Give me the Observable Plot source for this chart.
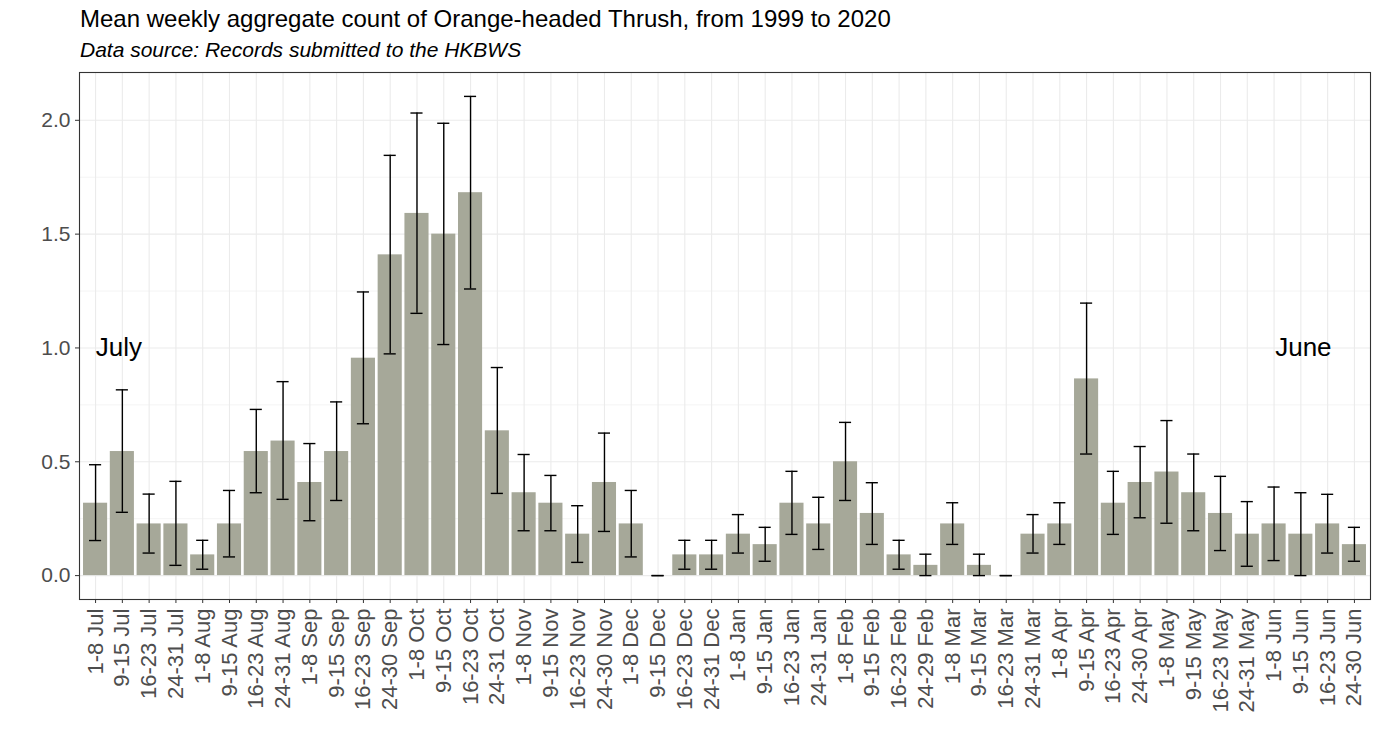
<!DOCTYPE html>
<html>
<head>
<meta charset="utf-8">
<script src="https://cdn.jsdelivr.net/npm/d3@7"></script>
<script src="https://cdn.jsdelivr.net/npm/@observablehq/plot@0.6"></script>
<style>
  html, body { margin: 0; padding: 0; background: #fff; }
  #header { position: relative; width: 1380px; height: 62px; font-family: "Liberation Sans", Arial, sans-serif; }
  #title { position: absolute; left: 80px; top: 7px; font-size: 24px; line-height: 24px; color: #000; white-space: nowrap; }
  #subtitle { position: absolute; left: 80px; top: 39px; font-size: 21px; line-height: 21px; font-style: italic; color: #000; white-space: nowrap; }
  #chart svg { display: block; }
</style>
</head>
<body>
<div id="header">
  <div id="title">Mean weekly aggregate count of Orange-headed Thrush, from 1999 to 2020</div>
  <div id="subtitle">Data source: Records submitted to the HKBWS</div>
</div>
<div id="chart"></div>
<script>
const weeks = [
  "1-8 Jul","9-15 Jul","16-23 Jul","24-31 Jul",
  "1-8 Aug","9-15 Aug","16-23 Aug","24-31 Aug",
  "1-8 Sep","9-15 Sep","16-23 Sep","24-30 Sep",
  "1-8 Oct","9-15 Oct","16-23 Oct","24-31 Oct",
  "1-8 Nov","9-15 Nov","16-23 Nov","24-30 Nov",
  "1-8 Dec","9-15 Dec","16-23 Dec","24-31 Dec",
  "1-8 Jan","9-15 Jan","16-23 Jan","24-31 Jan",
  "1-8 Feb","9-15 Feb","16-23 Feb","24-29 Feb",
  "1-8 Mar","9-15 Mar","16-23 Mar","24-31 Mar",
  "1-8 Apr","9-15 Apr","16-23 Apr","24-30 Apr",
  "1-8 May","9-15 May","16-23 May","24-31 May",
  "1-8 Jun","9-15 Jun","16-23 Jun","24-30 Jun"
];
const means = [
  0.318,0.545,0.227,0.227,
  0.091,0.227,0.545,0.591,
  0.409,0.545,0.955,1.409,
  1.591,1.500,1.682,0.636,
  0.364,0.318,0.182,0.409,
  0.227,0.000,0.091,0.091,
  0.182,0.136,0.318,0.227,
  0.500,0.273,0.091,0.045,
  0.227,0.045,0.000,0.182,
  0.227,0.864,0.318,0.409,
  0.455,0.364,0.273,0.182,
  0.227,0.182,0.227,0.136
];
const upper = [
  0.487,0.816,0.358,0.414,
  0.155,0.374,0.730,0.852,
  0.580,0.763,1.246,1.846,
  2.032,1.987,2.105,0.914,
  0.532,0.440,0.307,0.626,
  0.374,0.000,0.155,0.155,
  0.268,0.212,0.458,0.344,
  0.673,0.408,0.155,0.094,
  0.320,0.094,0.000,0.268,
  0.320,1.197,0.458,0.567,
  0.681,0.534,0.436,0.325,
  0.389,0.364,0.357,0.212
];
const lower = [
  0.154,0.278,0.099,0.045,
  0.028,0.082,0.364,0.335,
  0.241,0.330,0.667,0.974,
  1.152,1.015,1.259,0.361,
  0.197,0.197,0.058,0.194,
  0.082,0.000,0.028,0.028,
  0.099,0.063,0.181,0.115,
  0.330,0.137,0.028,0.000,
  0.137,0.000,0.000,0.099,
  0.137,0.534,0.181,0.254,
  0.230,0.197,0.110,0.041,
  0.066,0.000,0.099,0.063
];
const yMajor = [0, 0.5, 1.0, 1.5, 2.0];
const yMinor = [0.25, 0.75, 1.25, 1.75];
const annoText = ["July", "June"];
const annoWeek = ["9-15 Jul", "9-15 Jun"];
const annoValue = [1.0, 1.0];

const data = weeks.map((w, i) => ({week: w, mean: means[i], lo: lower[i], hi: upper[i]}));
const annos = annoText.map((t, i) => ({label: t, week: annoWeek[i], y: annoValue[i]}));

const font = '"Liberation Sans", Arial, sans-serif';
const plot = Plot.plot({
  width: 1380,
  height: 689,
  marginTop: 10,
  marginBottom: 152,
  marginLeft: 79,
  marginRight: 10,
  style: {fontFamily: font, background: "#fff", overflow: "visible"},
  x: {domain: weeks, paddingInner: 0.1, paddingOuter: 0.15},
  y: {domain: [-0.105, 2.21]},
  marks: [
    Plot.gridY(yMinor, {stroke: "#EBEBEB", strokeOpacity: 1, strokeWidth: 0.55}),
    Plot.gridY(yMajor, {stroke: "#EBEBEB", strokeOpacity: 1, strokeWidth: 1.1}),
    Plot.gridX(weeks, {stroke: "#EBEBEB", strokeOpacity: 1, strokeWidth: 1.1}),
    Plot.barY(data, {x: "week", y: "mean", fill: "#A6A899"}),
    Plot.ruleX(data, {x: "week", y1: "lo", y2: "hi", stroke: "#000", strokeWidth: 1.4}),
    Plot.tickY(data, {x: "week", y: "lo", stroke: "#000", strokeWidth: 1.4, insetLeft: 6, insetRight: 6}),
    Plot.tickY(data, {x: "week", y: "hi", stroke: "#000", strokeWidth: 1.4, insetLeft: 6, insetRight: 6}),
    Plot.text(annos.slice(0, 1), {x: "week", y: "y", text: "label", fontSize: 26, fill: "#000", dx: -3.5, lineAnchor: "middle"}),
    Plot.text(annos.slice(1), {x: "week", y: "y", text: "label", fontSize: 26, fill: "#000", dx: 2.5, lineAnchor: "middle"}),
    Plot.frame({stroke: "#333333", strokeWidth: 1.1}),
    Plot.axisY({ticks: yMajor, tickFormat: d3.format(".1f"), tickSize: 4, tickPadding: 5, fontSize: 21, fill: "#4D4D4D", stroke: "#333333", label: null}),
    Plot.axisX({tickRotate: -90, tickSize: 4, tickPadding: 5, fontSize: 22, fill: "#4D4D4D", stroke: "#333333", label: null})
  ]
});
document.getElementById("chart").appendChild(plot);
</script>
</body>
</html>
